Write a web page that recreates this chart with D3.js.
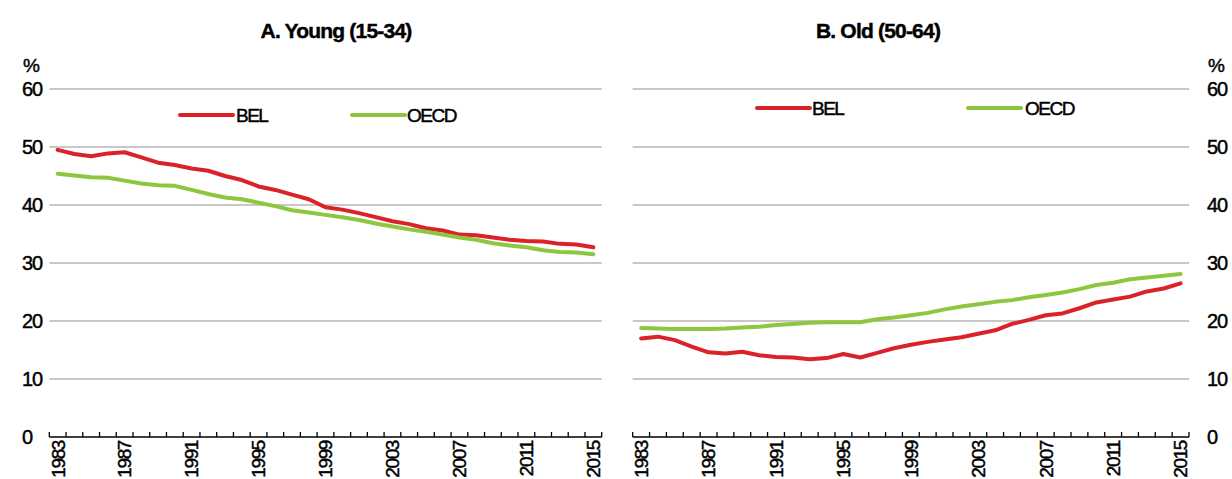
<!DOCTYPE html>
<html><head><meta charset="utf-8">
<script src="https://cdn.jsdelivr.net/npm/d3@7"></script>
<style>body{margin:0;background:#fff}svg{display:block}text{font-family:"Liberation Sans",Arial,sans-serif;fill:#000;stroke:#000;stroke-width:0.45px}</style>
</head><body><svg id="c" width="1232" height="479"></svg>
<script>
const years = d3.range(1983, 2016);
const yTicks = [0, 10, 20, 30, 40, 50, 60];
const xTickLabels = [1983, 1987, 1991, 1995, 1999, 2003, 2007, 2011, 2015];
const seriesNames = ["BEL", "OECD"];
const youngBEL = [49.5,48.8,48.4,48.9,49.1,48.2,47.3,46.9,46.3,45.9,45.0,44.3,43.2,42.6,41.8,41.0,39.6,39.2,38.6,37.9,37.2,36.7,36.0,35.6,34.9,34.8,34.4,34.0,33.8,33.7,33.3,33.2,32.7];
const youngOECD = [45.4,45.1,44.8,44.7,44.2,43.7,43.4,43.3,42.6,41.9,41.3,41.0,40.4,39.8,39.1,38.7,38.3,37.9,37.4,36.8,36.3,35.8,35.4,34.9,34.4,34.0,33.4,33.0,32.7,32.2,31.9,31.8,31.5];
const oldBEL = [17.0,17.3,16.7,15.6,14.6,14.4,14.7,14.1,13.8,13.7,13.4,13.6,14.3,13.7,14.5,15.3,15.9,16.4,16.8,17.2,17.8,18.4,19.5,20.2,21.0,21.3,22.2,23.2,23.7,24.2,25.1,25.6,26.5];
const oldOECD = [18.8,18.7,18.6,18.6,18.6,18.7,18.9,19.0,19.3,19.5,19.7,19.8,19.8,19.8,20.3,20.6,21.0,21.4,22.0,22.5,22.9,23.3,23.6,24.1,24.5,24.9,25.5,26.2,26.6,27.2,27.5,27.8,28.1];

const colors = {BEL: "#dc2229", OECD: "#8dc63f"};
const svg = d3.select("#c");
const y = d3.scaleLinear().domain([0, 60]).range([437, 89]);

const panels = [
  {title: "A. Young (15-34)", titleX: 336, x0: 49.3, x1: 601.7, labelX: 22, data: {BEL: youngBEL, OECD: youngOECD},
   legend: [{x: 180, tx: 236, y: 115}, {x: 352, tx: 407, y: 115}]},
  {title: "B. Old (50-64)", titleX: 878, x0: 632.7, x1: 1189, labelX: 1207, data: {BEL: oldBEL, OECD: oldOECD},
   legend: [{x: 757, tx: 812, y: 108}, {x: 968, tx: 1025, y: 108}]}
];

panels.forEach(p => {
  const g = svg.append("g");
  const x = d3.scaleBand().domain(years).range([p.x0, p.x1]).padding(0);
  g.selectAll("line.grid").data(yTicks.filter(d => d > 0)).join("line")
    .attr("x1", p.x0).attr("x2", p.x1).attr("y1", d => y(d)).attr("y2", d => y(d))
    .attr("stroke", "#c8c8c8").attr("stroke-width", 2);
  g.selectAll("text.yl").data(yTicks).join("text")
    .attr("x", p.labelX).attr("y", d => y(d)).attr("dy", "0.36em")
    .attr("font-size", 20).attr("letter-spacing", "-1.2px").text(d => d);
  g.append("text").attr("x", p.labelX + 1).attr("y", 72).attr("font-size", 19).attr("letter-spacing", "-1px").text("%");
  g.append("text").attr("x", p.titleX).attr("y", 38).attr("text-anchor", "middle")
    .attr("font-size", 21).attr("font-weight", "bold").attr("letter-spacing", "-0.8px").text(p.title);
  const line = d3.line().x((d, i) => x(years[i]) + x.bandwidth() / 2).y(d => y(d));
  seriesNames.forEach(s => {
    g.append("path").datum(p.data[s]).attr("d", line).attr("fill", "none")
      .attr("stroke", colors[s]).attr("stroke-width", 4).attr("stroke-linejoin", "round").attr("stroke-linecap", "round");
  });
  g.append("line").attr("x1", p.x0).attr("x2", p.x1).attr("y1", 437).attr("y2", 437)
    .attr("stroke", "#000").attr("stroke-width", 1.6);
  const bounds = years.map(d => x(d)).concat([p.x1]);
  g.selectAll("line.tk").data(bounds).join("line")
    .attr("x1", d => d).attr("x2", d => d).attr("y1", 437).attr("y2", 432)
    .attr("stroke", "#000").attr("stroke-width", 1.3);
  g.selectAll("text.xl").data(xTickLabels).join("text")
    .attr("transform", d => `translate(${x(d) + x.bandwidth() / 2},441) rotate(-90)`)
    .attr("text-anchor", "end").attr("dy", "0.36em")
    .attr("font-size", 19).attr("letter-spacing", "-1.4px").text(d => d);
  seriesNames.forEach((s, i) => {
    const L = p.legend[i];
    g.append("line").attr("x1", L.x).attr("x2", L.x + 53).attr("y1", L.y).attr("y2", L.y)
      .attr("stroke", colors[s]).attr("stroke-width", 4).attr("stroke-linecap", "round");
    g.append("text").attr("x", L.tx).attr("y", L.y).attr("dy", "0.36em")
      .attr("font-size", 19).attr("letter-spacing", "-1.5px").text(s);
  });
});
</script></body></html>
